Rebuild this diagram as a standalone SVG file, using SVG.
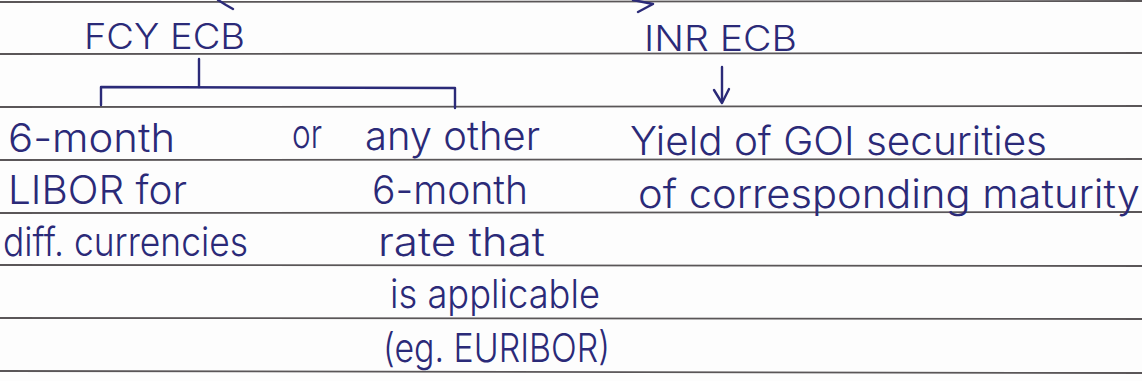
<svg xmlns="http://www.w3.org/2000/svg" width="1142" height="381" viewBox="0 0 1142 381">
<style>
.rule{stroke:#5a5658;stroke-width:1.8;fill:none}
.ink{stroke:#2b2a78;stroke-width:2.4;fill:none;stroke-linecap:round;stroke-linejoin:round}
text{font-family:Inter,"Open Sans","Liberation Sans",sans-serif;font-weight:300;fill:#2b2a78;font-size:40px}
.cap{font-size:35px}
</style>
<rect width="1142" height="381" fill="#fdfdfd"/>
<g id="rules">
<line class="rule" x1="0" y1="2" x2="1142" y2="1"/>
<line class="rule" x1="0" y1="54" x2="1142" y2="53"/>
<line class="rule" x1="0" y1="107" x2="1142" y2="106"/>
<line class="rule" x1="0" y1="160" x2="1142" y2="159"/>
<line class="rule" x1="0" y1="213" x2="1142" y2="212"/>
<line class="rule" x1="0" y1="265" x2="1142" y2="266"/>
<line class="rule" x1="0" y1="318" x2="1142" y2="319"/>
<line class="rule" x1="0" y1="371" x2="1142" y2="373"/>
</g>
<g id="connectors">
<polyline class="ink" points="218,0 226,5 233,9"/>
<polyline class="ink" points="633,0 653,4 638,12"/>
<line class="ink" x1="199" y1="59" x2="199" y2="87"/>
<polyline class="ink" points="101,105 101,87 455,88 455,108"/>
<line class="ink" x1="722" y1="67" x2="722" y2="102"/>
<polyline class="ink" points="714,90 722,103 729,89"/>
</g>
<g id="fcy-ecb"><text class="cap" x="84" y="49" textLength="161" lengthAdjust="spacingAndGlyphs">FCY ECB</text></g>
<g id="inr-ecb"><text class="cap" x="644" y="51" textLength="153" lengthAdjust="spacingAndGlyphs">INR ECB</text></g>
<g id="libor">
<text x="8" y="152" textLength="167" lengthAdjust="spacingAndGlyphs">6-month</text>
<text x="8" y="204" textLength="179" lengthAdjust="spacingAndGlyphs">LIBOR for</text>
<text x="3" y="256" textLength="245" lengthAdjust="spacingAndGlyphs">diff. currencies</text>
</g>
<g id="or"><text x="292" y="148" textLength="30" lengthAdjust="spacingAndGlyphs">or</text></g>
<g id="other-rate">
<text x="365" y="150" textLength="175" lengthAdjust="spacingAndGlyphs">any other</text>
<text x="372" y="204" textLength="156" lengthAdjust="spacingAndGlyphs">6-month</text>
<text x="378" y="256" textLength="167" lengthAdjust="spacingAndGlyphs">rate that</text>
<text x="390" y="308" textLength="210" lengthAdjust="spacingAndGlyphs">is applicable</text>
<text x="383" y="362" textLength="227" lengthAdjust="spacingAndGlyphs">(eg. EURIBOR)</text>
</g>
<g id="gsec-yield">
<text x="630" y="155" textLength="417" lengthAdjust="spacingAndGlyphs">Yield of GOI securities</text>
<text x="638" y="208" textLength="502" lengthAdjust="spacingAndGlyphs">of corresponding maturity</text>
</g>
</svg>
